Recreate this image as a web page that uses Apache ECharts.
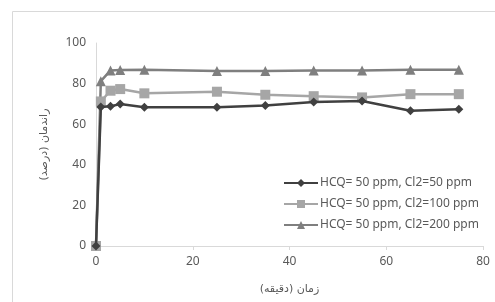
<!DOCTYPE html>
<html>
<head>
<meta charset="utf-8">
<script src="https://cdn.jsdelivr.net/npm/echarts@6/dist/echarts.min.js"></script>
<style>
    html, body { margin: 0; padding: 0; background: #fff; }
    #main { width: 495px; height: 302px; }
</style>
</head>
<body>
<div id="main"></div>
<script type="text/javascript">
    // data
    var times = [0, 1, 3, 5, 10, 25, 35, 45, 55, 65, 75];
    var cl50 = [0, 68.5, 68.8, 69.9, 68.4, 68.4, 69.2, 70.9, 71.4, 66.6, 67.4];
    var cl100 = [0, 71.2, 76.5, 77.3, 75.2, 76.0, 74.5, 73.8, 73.2, 74.8, 74.8];
    var cl200 = [0, 81.2, 86.5, 86.7, 86.8, 86.2, 86.2, 86.5, 86.5, 86.8, 86.8];
    var names = ['HCQ= 50 ppm, Cl2=50 ppm', 'HCQ= 50 ppm, Cl2=100 ppm', 'HCQ= 50 ppm, Cl2=200 ppm'];
    var xTitle = 'زمان (دقیقه)';
    var yTitle = 'راندمان (درصد)';

    function pairs(vals) {
        return times.map(function (t, i) { return [t, vals[i]]; });
    }

    var chart = echarts.init(document.getElementById('main'));
    var txt = '#595959';
    var font = 'Noto Sans, DejaVu Sans, sans-serif';

    var option = {
        animation: false,
        textStyle: { fontFamily: font },
        graphic: [{
            type: 'rect',
            left: 10, top: 9,
            shape: { width: 500, height: 300 },
            style: { fill: 'none', stroke: '#d9d9d9', lineWidth: 1 },
            silent: true
        }],
        grid: { left: 96, right: 12, top: 43, bottom: 56 },
        legend: {
            orient: 'vertical',
            left: 278, top: 172,
            itemWidth: 34, itemHeight: 10,
            itemGap: 9,
            textStyle: { color: txt, fontSize: 12, fontFamily: font, padding: [0, 0, 0, -3] },
            data: names
        },
        xAxis: {
            type: 'value',
            min: 0, max: 80, interval: 20,
            name: xTitle,
            nameLocation: 'middle',
            nameGap: 38,
            nameTextStyle: { color: txt, fontSize: 11, fontFamily: 'DejaVu Sans' },
            axisLine: { show: true, lineStyle: { color: '#d9d9d9' } },
            axisTick: { show: true, length: 4, lineStyle: { color: '#d9d9d9' } },
            axisLabel: { color: txt, fontSize: 12, margin: 10 },
            splitLine: { show: false }
        },
        yAxis: {
            type: 'value',
            min: 0, max: 100, interval: 20,
            name: yTitle,
            nameLocation: 'middle',
            nameGap: 46,
            nameRotate: 90,
            nameTextStyle: { color: txt, fontSize: 11, fontFamily: 'DejaVu Sans' },
            axisLine: { show: true, lineStyle: { color: '#d9d9d9' } },
            axisTick: { show: false },
            axisLabel: { color: txt, fontSize: 12, margin: 10 },
            splitLine: { show: false }
        },
        series: [
            {
                name: names[0], type: 'line', data: pairs(cl50),
                symbol: 'diamond', symbolSize: 9,
                lineStyle: { width: 2.5, color: '#404040' },
                itemStyle: { color: '#404040' }, z: 4
            },
            {
                name: names[1], type: 'line', data: pairs(cl100),
                symbol: 'rect', symbolSize: 10,
                lineStyle: { width: 2.5, color: '#a6a6a6' },
                itemStyle: { color: '#a6a6a6' }, z: 3
            },
            {
                name: names[2], type: 'line', data: pairs(cl200),
                symbol: 'triangle', symbolSize: 10,
                lineStyle: { width: 2.5, color: '#7f7f7f' },
                itemStyle: { color: '#7f7f7f' }, z: 2
            }
        ]
    };
    chart.setOption(option);
</script>
</body>
</html>
